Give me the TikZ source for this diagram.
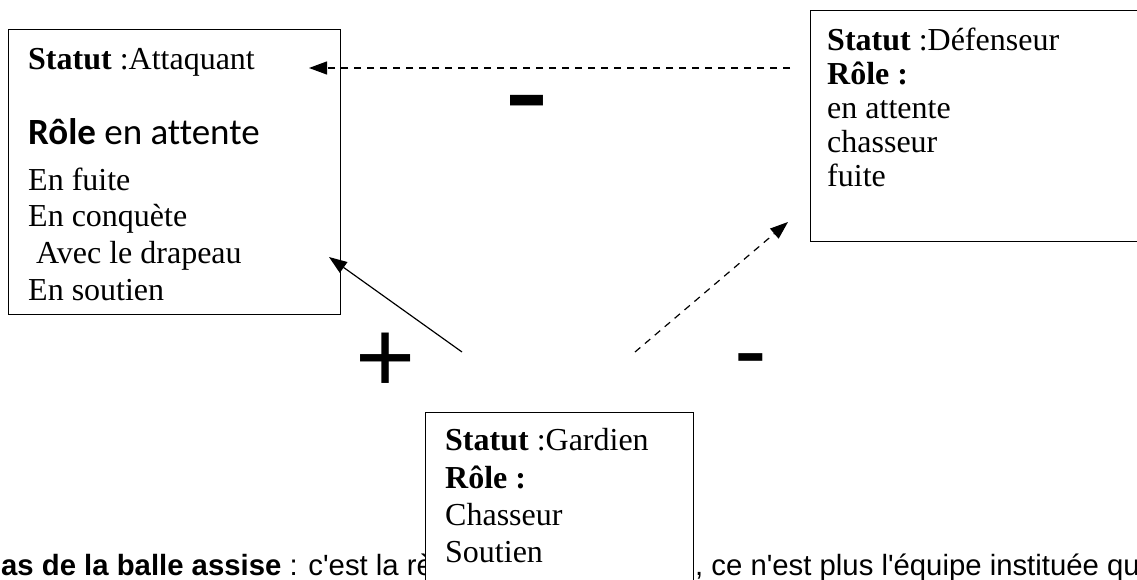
\documentclass[tikz,border=0pt]{standalone}
\usepackage{fontspec}
\setmainfont{Liberation Serif}
\newfontfamily\calfont[Ligatures=NoCommon]{Carlito}
\newfontfamily\arialfont{Liberation Sans}
\usetikzlibrary{arrows.meta}
\begin{document}
\begin{tikzpicture}[x=1pt,y=-1pt,
  boxframe/.style={draw=black, line width=1.3pt, fill=white, inner sep=0pt, anchor=north west},
  ln/.style={anchor=base west, inner sep=0pt, font=\fontsize{32}{36}\selectfont},
  bottomtxt/.style={anchor=base west, inner sep=0pt, font=\arialfont\fontsize{29.3}{34}\selectfont},
  sign/.style={anchor=base west, inner sep=0pt},
  tip/.style={-{Triangle[length=18pt,width=13pt]}},
  conn/.style={line width=1.2pt, tip},
  dconn/.style={line width=1.2pt, tip, dash pattern=on 7pt off 6pt}]
\useasboundingbox (0,0) rectangle (1137,580);
\clip (0,0) rectangle (1137,580);

% bottom running text (partly hidden by the Gardien box)
\node[bottomtxt] (bl) at (1,575) {\textbf{as de la balle assise} : c'est la rè};
\node[bottomtxt] (br) at (695,575) {, ce n'est plus l'équipe instituée qu};

% boxes
\node[boxframe, minimum width=332pt, minimum height=285pt] (A) at (8,29) {};
\node[boxframe, minimum width=327pt, minimum height=231pt] (D) at (810,10) {};
\node[boxframe, minimum width=268pt, minimum height=220pt] (G) at (425,412) {};

% Attaquant
\node[ln] (a1) at (28,69.5) {\textbf{Statut} :Attaquant};
\node[ln, font=\calfont\fontsize{37}{42}\selectfont] (a2) at (28,145) {\textbf{Rôle} en attente};
\node[ln] (a3) at (28,190) {En fuite};
\node[ln] (a4) at (28,226.5) {En conquète};
\node[ln] (a5) at (36,263) {Avec le drapeau};
\node[ln] (a6) at (28,300) {En soutien};

% Defenseur
\node[ln] (d1t) at (827,51) {\textbf{Statut} :Défenseur};
\node[ln] (d2t) at (827,85) {\textbf{Rôle :}};
\node[ln] (d3t) at (827,119) {en attente};
\node[ln] (d4t) at (827,153) {chasseur};
\node[ln] (d5t) at (827,187) {fuite};

% Gardien
\node[ln] (g1) at (445,450.5) {\textbf{Statut} :Gardien};
\node[ln] (g2) at (445,488) {\textbf{Rôle :}};
\node[ln] (g3) at (445,525) {Chasseur};
\node[ln] (g4) at (445,562) {Soutien};

% signs
\node[sign, font=\arialfont\fontsize{135}{135}\selectfont] (mT) at (504.6,136.2) {-};
\node[sign, font=\arialfont\fontsize{103}{103}\selectfont] (pl) at (355.3,392.7) {+};
\node[sign, font=\arialfont\fontsize{98}{98}\selectfont] (mR) at (734.7,383.5) {-};

% connectors
\coordinate (p0) at (790,68);
\coordinate (p1) at (309,68);
\coordinate (s0) at (462,352);
\coordinate (s1) at (329,257);
\coordinate (q0) at (635,352);
\coordinate (q1) at (788,222);
\draw[dconn] (p0) -- (p1);
\draw[conn] (s0) -- (s1);
\draw[dconn] (q0) -- (q1);
\end{tikzpicture}
\end{document}
